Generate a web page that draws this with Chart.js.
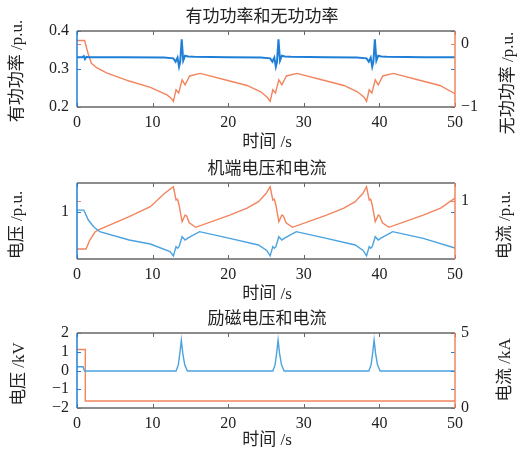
<!DOCTYPE html>
<html><head><meta charset="utf-8">
<script src="https://cdn.jsdelivr.net/npm/chart.js@4/dist/chart.umd.min.js"></script>
<style>
html,body{margin:0;padding:0;background:#fff;}
#wrap{position:relative;width:518px;height:458px;overflow:hidden;background:#fff;}
canvas{position:absolute;left:0;}
</style></head><body>
<div id="wrap">
<canvas id="c1" width="518" height="150" style="top:0px;width:518px;height:150px"></canvas>
<canvas id="c2" width="518" height="150" style="top:150px;width:518px;height:150px"></canvas>
<canvas id="c3" width="518" height="158" style="top:300px;width:518px;height:158px"></canvas>
</div>
<script>
// ---------- data ----------
const xTicks = [0, 10, 20, 30, 40, 50];

// Plot 1: active power (left, p.u.) and reactive power (right, p.u.)
const activeT = [0, 0.7, 0.9, 1.05, 1.25, 1.6, 6, 11.5, 12.75, 13.05, 13.3, 13.5, 13.65, 13.85, 14.05, 14.3, 14.7, 15.5, 20, 24.3, 25.55, 25.85, 26.1, 26.3, 26.45, 26.65, 26.85, 27.1, 27.5, 28.3, 33, 37.0, 38.3, 38.6, 38.85, 39.05, 39.2, 39.4, 39.6, 39.85, 40.25, 41.0, 46, 50];
const activeP = [0.331, 0.331, 0.334, 0.326, 0.332, 0.331, 0.331, 0.330, 0.328, 0.319, 0.330, 0.306, 0.318, 0.378, 0.322, 0.335, 0.333, 0.332, 0.331, 0.330, 0.328, 0.319, 0.330, 0.306, 0.318, 0.378, 0.322, 0.335, 0.333, 0.332, 0.331, 0.330, 0.328, 0.319, 0.330, 0.306, 0.318, 0.378, 0.322, 0.335, 0.333, 0.332, 0.331, 0.331];
const reactT = [0, 1.0, 1.5, 1.9, 2.6, 3.9, 6.9, 9.7, 11.9, 12.45, 12.75, 13.1, 13.45, 13.9, 14.3, 14.9, 16.3, 20.2, 22.5, 24.3, 25.2, 25.55, 25.9, 26.25, 26.7, 27.1, 27.7, 29.1, 33.0, 35.3, 37.1, 38.0, 38.3, 38.65, 39.0, 39.45, 39.85, 40.45, 41.85, 45.7, 48.0, 50];
const reactQ = [0.05, 0.05, -0.17, -0.31, -0.38, -0.46, -0.59, -0.69, -0.81, -0.86, -0.91, -0.73, -0.78, -0.57, -0.65, -0.51, -0.47, -0.59, -0.66, -0.76, -0.85, -0.91, -0.73, -0.78, -0.57, -0.65, -0.51, -0.47, -0.59, -0.66, -0.76, -0.85, -0.91, -0.73, -0.78, -0.57, -0.65, -0.51, -0.47, -0.59, -0.66, -0.79];
const p1LeftTicks = [0.2, 0.3, 0.4];
const p1RightTicks = [-1, 0];

// Plot 2: terminal voltage (left, p.u.) and current (right, p.u.)
const voltT = [0, 0.9, 1.5, 2.2, 3.0, 6.9, 9.7, 12.3, 12.75, 13.1, 13.3, 13.5, 13.9, 14.3, 14.6, 16.2, 20.2, 24.0, 25.1, 25.55, 25.9, 26.1, 26.3, 26.7, 27.1, 27.4, 29.0, 33.0, 36.8, 37.85, 38.3, 38.65, 38.85, 39.05, 39.45, 39.85, 40.15, 41.75, 45.8, 50];
const voltV = [1.006, 1.006, 0.964, 0.936, 0.915, 0.880, 0.863, 0.831, 0.813, 0.852, 0.845, 0.852, 0.894, 0.880, 0.887, 0.915, 0.887, 0.859, 0.836, 0.813, 0.852, 0.845, 0.852, 0.894, 0.880, 0.887, 0.915, 0.887, 0.859, 0.836, 0.813, 0.852, 0.845, 0.852, 0.894, 0.880, 0.887, 0.915, 0.887, 0.846];
const currT = [0, 1.2, 1.7, 2.4, 3.0, 6.9, 9.7, 11.6, 12.75, 13.1, 13.3, 13.5, 13.9, 14.3, 14.5, 14.85, 15.7, 20.2, 22.5, 24.0, 25.0, 25.55, 25.9, 26.1, 26.3, 26.7, 27.1, 27.3, 27.65, 28.5, 33.0, 35.3, 36.8, 37.8, 38.3, 38.65, 38.85, 39.05, 39.45, 39.85, 40.05, 40.4, 41.25, 45.8, 48.1, 50];
const currI = [0.585, 0.585, 0.662, 0.733, 0.754, 0.862, 0.947, 1.062, 1.118, 1.005, 1.011, 0.962, 0.819, 0.876, 0.868, 0.810, 0.771, 0.876, 0.935, 0.990, 1.060, 1.118, 1.005, 1.011, 0.962, 0.819, 0.876, 0.868, 0.810, 0.771, 0.876, 0.935, 0.990, 1.060, 1.118, 1.005, 1.011, 0.962, 0.819, 0.876, 0.868, 0.810, 0.771, 0.876, 0.935, 1.020];
const p2LeftTicks = [1];
const p2RightTicks = [1];

// Plot 3: excitation voltage (left, kV) and current (right, kA)
const excVT = [0, 0.8, 1.0, 13.1, 13.4, 13.6, 13.8, 14.0, 14.25, 14.6, 25.9, 26.2, 26.4, 26.6, 26.8, 27.05, 27.4, 38.6, 38.9, 39.1, 39.3, 39.5, 39.75, 40.1, 50];
const excV = [0.2, 0.2, -0.03, -0.03, 0.3, 0.9, 1.62, 0.9, 0.3, -0.03, -0.03, 0.3, 0.9, 1.62, 0.9, 0.3, -0.03, -0.03, 0.3, 0.9, 1.62, 0.9, 0.3, -0.03, -0.03];
const excIT = [0, 1.1, 1.1, 50];
const excI = [3.9, 3.9, 0.47, 0.47];
const p3LeftTicks = [-2, -1, 0, 1, 2];
const p3RightTicks = [0, 5];

// ---------- styling ----------
const BLUE1 = '#1f7fd6', BLUE2 = '#4aa2e0', ORANGE = '#f2845e';
const AX_BLUE = '#1f7fd6', AX_ORANGE = '#f2845e', BOX = '#666666';
const TICK_FONT = {family: "'Liberation Serif','Times New Roman',serif", size: 16};
const TXT_FONT = "17px 'Liberation Serif','Noto Sans CJK SC',serif";

function pts(t, v) { return t.map((x, i) => ({x: x, y: v[i]})); }
function fmt(v) { const s = String(Math.round(v * 1000) / 1000); return s.replace('-', '\u2212'); }

function decor(o) {
  return {
    id: 'decor',
    afterDraw(chart) {
      const ctx = chart.ctx, a = chart.chartArea;
      const xs = chart.scales.x, yl = chart.scales.yL, yr = chart.scales.yR;
      ctx.save();
      const line = (x1, y1, x2, y2) => { ctx.beginPath(); ctx.moveTo(x1, y1); ctx.lineTo(x2, y2); ctx.stroke(); };
      ctx.strokeStyle = BOX; ctx.lineWidth = 1;
      xTicks.forEach(v => { const px = Math.round(xs.getPixelForValue(v)) + 0.5; line(px, a.top, px, a.top + 4); line(px, a.bottom, px, a.bottom - 4); });
      ctx.strokeStyle = AX_BLUE;
      o.lticks.forEach(v => { const py = Math.round(yl.getPixelForValue(v)) + 0.5; line(a.left, py, a.left + 4, py); line(a.right - 4, py, a.right, py); });
      ctx.strokeStyle = AX_ORANGE;
      o.rticks.forEach(v => { const py = Math.round(yr.getPixelForValue(v)) + 0.5; line(a.left, py, a.left + 4, py); line(a.right - 4, py, a.right, py); });
      ctx.lineWidth = 1.5;
      ctx.strokeStyle = BOX; line(a.left, a.top, a.right, a.top); line(a.left, a.bottom, a.right, a.bottom);
      ctx.strokeStyle = AX_BLUE; line(a.left, a.top, a.left, a.bottom);
      ctx.strokeStyle = AX_ORANGE; line(a.right, a.top, a.right, a.bottom);
      ctx.fillStyle = '#222';
      ctx.font = TXT_FONT; ctx.textAlign = 'center'; ctx.textBaseline = 'middle';
      ctx.fillText(o.title, o.titlePos[0], o.titlePos[1]);
      ctx.fillText('时间 /s', o.xTitlePos[0], o.xTitlePos[1]);
      [[o.lTitle, o.lPos], [o.rTitle, o.rPos]].forEach(([txt, p]) => {
        ctx.save(); ctx.translate(p[0], p[1]); ctx.rotate(-Math.PI / 2); ctx.fillText(txt, 0, 0); ctx.restore();
      });
      ctx.restore();
    }
  };
}

function makeChart(id, o) {
  return new Chart(document.getElementById(id), {
    type: 'line',
    data: {datasets: [
      {data: pts(o.lt, o.lv), yAxisID: 'yL', borderColor: o.lc, borderWidth: o.lw, pointRadius: 0, tension: 0, fill: false},
      {data: pts(o.rt, o.rv), yAxisID: 'yR', borderColor: ORANGE, borderWidth: o.rw, pointRadius: 0, tension: 0, fill: false}
    ]},
    options: {
      responsive: false, animation: false, devicePixelRatio: 1,
      layout: {padding: {top: o.top, left: 0, right: 0, bottom: 0}},
      plugins: {legend: {display: false}, tooltip: {enabled: false}, title: {display: false}},
      scales: {
        x: {type: 'linear', min: 0, max: 50,
          afterBuildTicks: s => { s.ticks = xTicks.map(v => ({value: v})); },
          afterFit: s => { s.height = o.xh; },
          grid: {display: false, drawTicks: false}, border: {display: false},
          ticks: {font: TICK_FONT, color: '#222', padding: 6, maxRotation: 0, autoSkip: false, callback: v => fmt(v)}},
        yL: {type: 'linear', position: 'left', min: o.lmin, max: o.lmax,
          afterBuildTicks: s => { s.ticks = o.lticks.map(v => ({value: v})); },
          afterFit: s => { s.width = 77; },
          grid: {display: false, drawTicks: false}, border: {display: false},
          ticks: {font: TICK_FONT, color: '#222', padding: 8, autoSkip: false, callback: v => fmt(v)}},
        yR: {type: 'linear', position: 'right', min: o.rmin, max: o.rmax,
          afterBuildTicks: s => { s.ticks = o.rticks.map(v => ({value: v})); },
          afterFit: s => { s.width = 63; },
          grid: {display: false, drawTicks: false}, border: {display: false},
          ticks: {font: TICK_FONT, color: '#222', padding: 6, autoSkip: false, callback: v => fmt(v)}}
      }
    },
    plugins: [decor(o)]
  });
}

makeChart('c1', {
  lt: activeT, lv: activeP, rt: reactT, rv: reactQ, lc: BLUE1, lw: 2, rw: 1.4,
  lmin: 0.2, lmax: 0.4, rmin: -1, rmax: 0.2, lticks: p1LeftTicks, rticks: p1RightTicks,
  top: 31, xh: 43,
  title: '有功功率和无功功率', titlePos: [262, 18], xTitlePos: [267, 143],
  lTitle: '有功功率 /p.u.', lPos: [18, 71], rTitle: '无功功率 /p.u.', rPos: [509, 83]
});
makeChart('c2', {
  lt: voltT, lv: voltV, rt: currT, rv: currI, lc: BLUE2, lw: 1.4, rw: 1.4,
  lmin: 0.8, lmax: 1.12, rmin: 0.5, rmax: 1.15, lticks: p2LeftTicks, rticks: p2RightTicks,
  top: 33, xh: 41,
  title: '机端电压和电流', titlePos: [267, 20], xTitlePos: [267, 145],
  lTitle: '电压 /p.u.', lPos: [18, 75], rTitle: '电流 /p.u.', rPos: [506, 75]
});
makeChart('c3', {
  lt: excVT, lv: excV, rt: excIT, rv: excI, lc: BLUE2, lw: 1.4, rw: 1.4,
  lmin: -2, lmax: 2, rmin: 0, rmax: 5, lticks: p3LeftTicks, rticks: p3RightTicks,
  top: 33, xh: 50,
  title: '励磁电压和电流', titlePos: [267, 20], xTitlePos: [267, 141],
  lTitle: '电压 /kV', lPos: [20, 74], rTitle: '电流 /kA', rPos: [506, 70]
});
</script>
</body></html>
